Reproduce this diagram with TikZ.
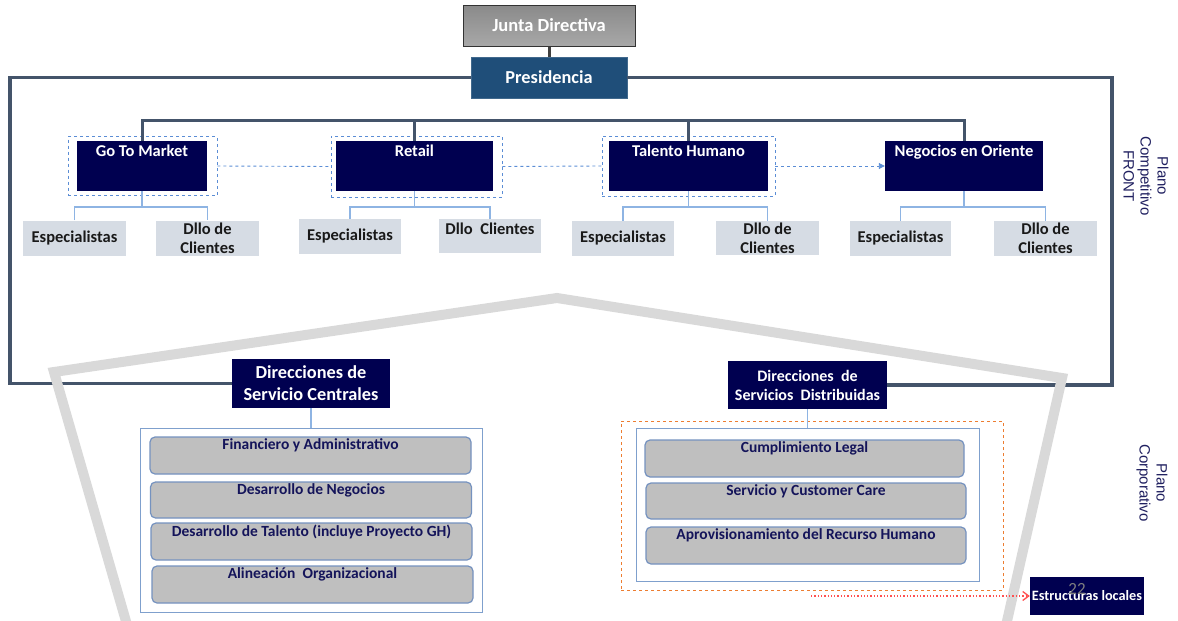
\documentclass[tikz,border=0pt]{standalone}
\usepackage{fontspec}
\setmainfont{Carlito}
\newfontfamily\arialf{Liberation Sans}
\usetikzlibrary{arrows.meta}
\definecolor{navy}{RGB}{0,0,80}
\definecolor{presblue}{RGB}{31,78,121}
\definecolor{framecol}{RGB}{68,84,106}
\definecolor{subblue}{RGB}{142,180,227}
\definecolor{subfill}{RGB}{214,220,228}
\definecolor{dashblue}{RGB}{91,141,213}
\definecolor{polygray}{RGB}{217,217,217}
\definecolor{innerfill}{RGB}{191,191,191}
\definecolor{innerborder}{RGB}{117,146,191}
\definecolor{contborder}{RGB}{127,160,205}
\definecolor{orangec}{RGB}{237,125,49}
\definecolor{redc}{RGB}{255,80,80}
\definecolor{labnavy}{RGB}{32,32,96}
\definecolor{textnavy}{RGB}{20,20,90}
\begin{document}
\begin{tikzpicture}[x=1pt,y=-1pt,
  navybox/.style={draw=none,fill=navy,inner sep=0pt},
  toptext/.style={anchor=north,text=white,font=\bfseries\fontsize{16.5}{19}\selectfont,inner sep=0pt,yshift=-4pt},
  subbox/.style={fill=subfill,draw=none,inner sep=0pt,text=black!90,font=\bfseries\fontsize{16.5}{19}\selectfont,align=center},
  dashbox/.style={draw=dashblue,dashed,line width=0.9pt,inner sep=0pt},
  tree/.style={draw=framecol,line width=3pt},
  frameline/.style={draw=framecol,line width=3.5pt},
  subline/.style={draw=subblue,line width=1.4pt},
  dashline/.style={draw=dashblue,dashed,line width=0.9pt},
  container/.style={draw=contborder,line width=1pt,fill=white,inner sep=0pt},
  innerbox/.style={draw=innerborder,line width=1.2pt,fill=innerfill,rounded corners=5pt,inner sep=0pt,minimum width=321pt},
  innertext/.style={anchor=north,text=textnavy,font=\bfseries\fontsize{15.5}{17}\selectfont,inner sep=0pt,yshift=-2pt},
  sidelabel/.style={rotate=-90,text=labnavy,align=center,font=\arialf\fontsize{15}{17}\selectfont}
]
\useasboundingbox (0,0) rectangle (1178,621);

% top boxes
\node[draw=black!80,line width=1pt,top color={rgb,255:red,138;green,138;blue,138},bottom color={rgb,255:red,168;green,168;blue,168},minimum width=172pt,minimum height=41pt,inner sep=0pt,text=white,font=\bfseries\fontsize{18.5}{21}\selectfont] (junta) at (549,25.5) {Junta Directiva};
\node[fill=presblue,draw=presblue!85!white,line width=0.8pt,minimum width=156pt,minimum height=41pt,inner sep=0pt,text=white,font=\bfseries\fontsize{18.3}{21}\selectfont] (pres) at (549,77.5) {Presidencia};
\draw[draw=black!75,line width=3pt] (junta.south) -- (pres.north);

% frame corners
\coordinate (fBL) at (10,383.5);
\coordinate (fBR) at (1112,385);

% dashed boxes
\node[dashbox,minimum width=149pt,minimum height=59pt] (gtmd) at (142.5,166) {};
\node[dashbox,minimum width=171pt,minimum height=61pt] (retd) at (416.5,166.5) {};
\node[dashbox,minimum width=173pt,minimum height=60pt] (tald) at (688.5,166) {};

% competitive units
\node[navybox,minimum width=130pt,minimum height=50pt,label={[toptext]north:Go To Market}] (gtm) at (142,166) {};
\node[navybox,minimum width=157pt,minimum height=50pt,label={[toptext]north:Retail}] (ret) at (414.5,166) {};
\node[navybox,minimum width=159pt,minimum height=50pt,label={[toptext]north:Talento Humano}] (tal) at (688.5,166) {};
\node[navybox,minimum width=158pt,minimum height=50pt,label={[toptext]north:Negocios en Oriente}] (neg) at (964,166) {};

% bus
\coordinate (bus) at (0,120);
\draw[tree] (gtm.north) -- (gtm.north |- bus) -- (neg.north |- bus) -- (neg.north);
\draw[tree] (ret.north) -- (ret.north |- bus);
\draw[tree] (tal.north) -- (tal.north |- bus);

% dashed connectors
\draw[dashline] (gtmd.east) -- (retd.west);
\draw[dashline] (retd.east) -- (tald.west);
\draw[dashline,-{Triangle[length=6pt,width=6pt]}] (tald.east) -- (neg.west);

% sub boxes
\node[subbox,minimum width=103pt,minimum height=35pt] (gtmE) at (74.5,238) {Especialistas};
\node[subbox,minimum width=103pt,minimum height=35pt] (gtmC) at (207.5,238) {Dllo de\\Clientes};
\node[subbox,minimum width=102pt,minimum height=35pt] (retE) at (350,236.5) {Especialistas};
\node[subbox,minimum width=102pt,minimum height=34pt,text depth=14pt] (retC) at (490,236) {Dllo\ \ Clientes};
\node[subbox,minimum width=102pt,minimum height=35pt] (talE) at (623,238.5) {Especialistas};
\node[subbox,minimum width=103pt,minimum height=34pt] (talC) at (767.5,238) {Dllo de\\Clientes};
\node[subbox,minimum width=101pt,minimum height=35pt] (negE) at (900.5,238.5) {Especialistas};
\node[subbox,minimum width=103pt,minimum height=35pt] (negC) at (1045.5,238.5) {Dllo de\\Clientes};

\coordinate (br) at (0,207);
\draw[subline] (gtm.south) -- (gtm.south |- br);
\draw[subline] (gtmE.north) |- (gtm.south |- br) -| (gtmC.north);
\draw[subline] (ret.south) -- (ret.south |- br);
\draw[subline] (retE.north) |- (ret.south |- br) -| (retC.north);
\draw[subline] (tal.south) -- (tal.south |- br);
\draw[subline] (talE.north) |- (tal.south |- br) -| (talC.north);
\draw[subline] (neg.south) -- (neg.south |- br);
\draw[subline] (negE.north) |- (neg.south |- br) -| (negC.north);

% lower direction boxes
\node[navybox,minimum width=158pt,minimum height=49pt,text=white,align=center,font=\bfseries\fontsize{18.3}{22}\selectfont] (dsc) at (311,383.5) {Direcciones de\\Servicio Centrales};
\node[navybox,minimum width=159pt,minimum height=48pt,text=white,align=center,font=\bfseries\fontsize{16}{19}\selectfont] (dsd) at (807.5,385) {Direcciones\ \ de\\Servicios\ \ Distribuidas};

% frame lines
\draw[frameline] (pres.west) -| (fBL) -- (dsc.west);
\draw[frameline] (pres.east) -| (fBR) -- (dsd.east);

% gray polygon
\draw[draw=polygray,line width=10pt,line join=miter] (128.5,630) -- (54,372) -- (557,298) -- (1062,378) -- (1005,630);

% central container
\node[container,minimum width=342pt,minimum height=184pt] (cC) at (311,520) {};
\draw[subline] (dsc.south) -- (cC.north);
\node[innerbox,minimum height=37pt,label={[innertext]north:Financiero y Administrativo}] (fin) at (310.5,455.5) {};
\node[innerbox,minimum height=36pt,label={[innertext]north:Desarrollo de Negocios}] (dne) at (311,500) {};
\node[innerbox,minimum height=37pt,label={[innertext]north:Desarrollo de Talento (incluye Proyecto GH)}] (dta) at (311.5,541.5) {};
\node[innerbox,minimum height=37pt,label={[innertext]north:Alineación\ \ Organizacional}] (ali) at (312.5,584.5) {};

% distributed container
\node[draw=orangec,dashed,line width=0.9pt,minimum width=382pt,minimum height=169pt,inner sep=0pt] (oD) at (812,505.5) {};
\node[container,minimum width=343pt,minimum height=153pt] (cD) at (807.5,504.5) {};
\draw[subline] (dsd.south) -- (cD.north);
\node[innerbox,minimum width=319pt,minimum height=37pt,label={[innertext]north:Cumplimiento Legal}] (cum) at (804.5,458.5) {};
\node[innerbox,minimum width=320pt,minimum height=36pt,label={[innertext]north:Servicio y Customer Care}] (ser) at (806,501) {};
\node[innerbox,minimum width=320pt,minimum height=37pt,label={[innertext]north:Aprovisionamiento\ del Recurso Humano}] (apr) at (806,545.5) {};

% estructuras locales
\node[navybox,minimum width=114pt,minimum height=38pt,text=white,font=\bfseries\fontsize{14.3}{16}\selectfont] (est) at (1087,596) {Estructuras locales};
\node[text=black!50,font=\fontsize{17}{19}\selectfont,inner sep=0pt] (pnum) at (1077,589) {22};
\coordinate (arrstart) at (811,596);
\draw[draw=redc,dotted,line width=1.3pt,-{Straight Barb[length=6pt,width=9pt]}] (arrstart) -- (est.west);

% side labels
\node[sidelabel] (plfront) at (1146,176) {Plano\\Competitivo\\FRONT};
\node[sidelabel] (plcorp) at (1152,483) {Plano\\Corporativo};
\end{tikzpicture}
\end{document}
